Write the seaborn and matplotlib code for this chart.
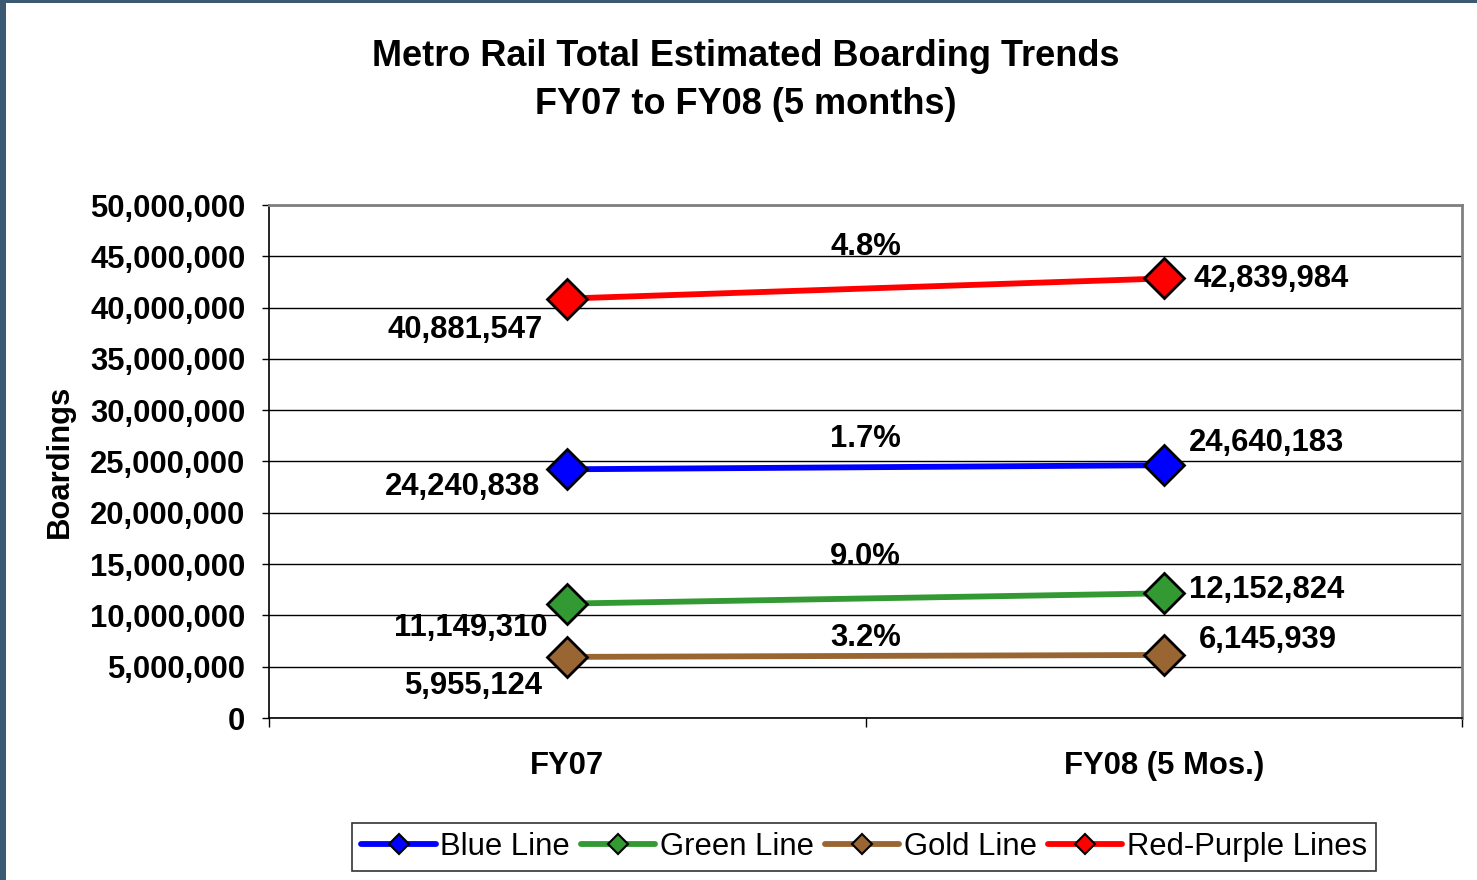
import matplotlib
matplotlib.use("Agg")
import matplotlib.pyplot as plt
from matplotlib.lines import Line2D
from matplotlib.patches import Rectangle
from matplotlib.ticker import FuncFormatter, FixedLocator
import seaborn as sns
import pandas as pd

# ---- data ----
periods = ["FY07", "FY08 (5 Mos.)"]
series_names = ["Blue Line", "Green Line", "Gold Line", "Red-Purple Lines"]
blue_line = [24240838, 24640183]
green_line = [11149310, 12152824]
gold_line = [5955124, 6145939]
red_purple = [40881547, 42839984]
pct_labels = ["1.7%", "9.0%", "3.2%", "4.8%"]
y_ticks = [0, 5000000, 10000000, 15000000, 20000000, 25000000, 30000000,
           35000000, 40000000, 45000000, 50000000]

values = [blue_line, green_line, gold_line, red_purple]
rows = []
for name, vals in zip(series_names, values):
    for p, v in zip(periods, vals):
        rows.append({"period": p, "boardings": v, "line": name})
df = pd.DataFrame(rows)

# ---- styles ----
colors = {"Blue Line": "#0000FF", "Green Line": "#339933",
          "Gold Line": "#996633", "Red-Purple Lines": "#FF0000"}
# label offsets in pixels
off_first = {"Blue Line": (-27, -18), "Green Line": (-20, -24),
             "Gold Line": (-25, -29), "Red-Purple Lines": (-25, -31)}
off_last = {"Blue Line": (25, 22), "Green Line": (25, 3),
            "Gold Line": (35, 15), "Red-Purple Lines": (30, -1)}
off_pct = {"Blue Line": 28, "Green Line": 41, "Gold Line": 18,
           "Red-Purple Lines": 42}

sns.set_theme(style="white")
plt.rcParams["font.family"] = ["Liberation Sans", "DejaVu Sans"]
plt.rcParams["text.color"] = "black"
plt.rcParams["axes.labelcolor"] = "black"
plt.rcParams["xtick.color"] = "black"
plt.rcParams["ytick.color"] = "black"

FS = 22.3

fig = plt.figure(figsize=(14.77, 8.8), dpi=100)
ax = fig.add_axes([269 / 1477, 1 - 718 / 880, (1462 - 269) / 1477, (718 - 205) / 880])

sns.lineplot(data=df, x="period", y="boardings", hue="line",
             palette=colors, hue_order=series_names, marker="D",
             markersize=20, markeredgecolor="black", markeredgewidth=2,
             linewidth=4.2, legend=False, ax=ax, zorder=3)

ax.set_xlim(-0.5, 1.5)
ax.set_ylim(0, 50000000)
ax.yaxis.set_major_locator(FixedLocator(y_ticks))
ax.yaxis.set_major_formatter(FuncFormatter(lambda v, p: f"{int(v):,}"))
ax.grid(axis="y", color="black", linewidth=1.0, zorder=0)
ax.grid(axis="x", visible=False)
ax.set_axisbelow(True)

ax.set_xticks([0, 1])
ax.set_xticklabels(periods, fontsize=FS, fontweight="bold", color="black")
ax.set_xticks([-0.5, 0.5, 1.5], minor=True)
ax.tick_params(axis="x", which="major", length=0, pad=24)
ax.tick_params(axis="x", which="minor", length=6.5, width=1, color="black",
               direction="out", bottom=True)
ax.tick_params(axis="y", which="major", length=5, width=1, color="black",
               direction="out", left=True, pad=12)
for lab in ax.get_yticklabels():
    lab.set_fontsize(FS)
    lab.set_fontweight("bold")
    lab.set_color("black")
ax.set_xlabel("")
ax.set_ylabel("Boardings", fontsize=FS, fontweight="bold", labelpad=11,
              color="black")

for side in ["left", "bottom"]:
    ax.spines[side].set_color("black")
    ax.spines[side].set_linewidth(1.2)
for side in ["top", "right"]:
    ax.spines[side].set_color("#808080")
    ax.spines[side].set_linewidth(2)

# ---- data labels ----
for name, vals, pct in zip(series_names, values, pct_labels):
    dx, dy = off_first[name]
    ax.annotate(f"{vals[0]:,}", xy=(0, vals[0]), xytext=(dx, dy),
                textcoords="offset pixels", ha="right", va="center",
                fontsize=FS, fontweight="bold", color="black", zorder=5)
    dx, dy = off_last[name]
    ax.annotate(f"{vals[1]:,}", xy=(1, vals[1]), xytext=(dx, dy),
                textcoords="offset pixels", ha="left", va="center",
                fontsize=FS, fontweight="bold", color="black", zorder=5)
    ax.annotate(pct, xy=(0.5, (vals[0] + vals[1]) / 2),
                xytext=(0, off_pct[name]), textcoords="offset pixels",
                ha="center", va="center", fontsize=FS, fontweight="bold",
                color="black", zorder=5)

# ---- title ----
fig.text(0.505, 1 - 56 / 880, "Metro Rail Total Estimated Boarding Trends",
         ha="center", va="center", fontsize=26, fontweight="bold",
         color="black")
fig.text(0.505, 1 - 104 / 880, "FY07 to FY08 (5 months)",
         ha="center", va="center", fontsize=26, fontweight="bold",
         color="black")

# ---- legend ----
handles = [Line2D([0], [0], color=colors[n], linewidth=4.2, marker="D",
                  markersize=10, markeredgecolor="black",
                  markeredgewidth=1.5, solid_capstyle="round")
           for n in series_names]
leg = fig.legend(handles, series_names, loc="center",
                 bbox_to_anchor=(864 / 1477, 1 - 847 / 880), ncol=4,
                 fontsize=FS, frameon=True, fancybox=False,
                 handlelength=2.4, handletextpad=0.15, columnspacing=0.35,
                 borderpad=0.3, borderaxespad=0, edgecolor="black")
leg.get_frame().set_linewidth(1.2)
for t in leg.get_texts():
    t.set_color("black")

# ---- slide border ----
fig.patches.append(Rectangle((0, 0), 6 / 1477, 1, transform=fig.transFigure,
                             facecolor="#3b5a72", edgecolor="none"))
fig.patches.append(Rectangle((0, 1 - 3 / 880), 1, 3 / 880,
                             transform=fig.transFigure,
                             facecolor="#3b5a72", edgecolor="none"))

fig.savefig("out.png", dpi=100)
